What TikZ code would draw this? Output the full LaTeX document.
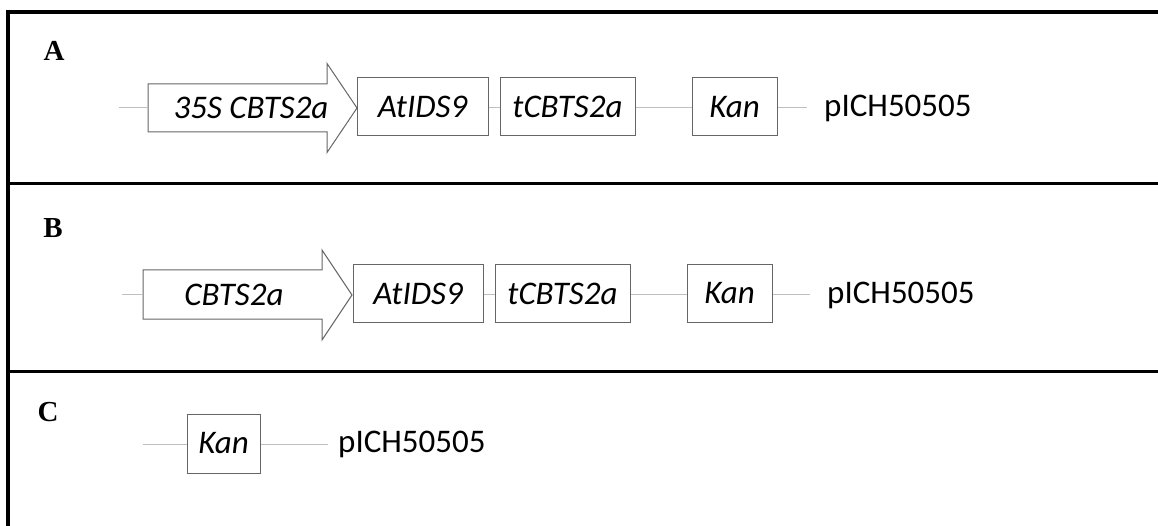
\documentclass[tikz,border=0pt]{standalone}
\usepackage{fontspec}
\setmainfont{Carlito}
\newfontfamily\labelfont{Liberation Serif}
\begin{document}
\begin{tikzpicture}[x=1pt,y=-1pt,
  frameline/.style={line width=4pt,black},
  divider/.style={line width=3pt,black},
  wire/.style={line width=1pt,draw=black!25},
  genebox/.style={draw=black!60,line width=1pt,fill=white,inner sep=0pt,
    font=\fontsize{33}{40}\selectfont\itshape},
  arrowbody/.style={draw=black!60,line width=1pt,fill=white,line join=miter},
  arrowtext/.style={inner sep=0pt,font=\fontsize{33}{40}\selectfont\itshape},
  vector/.style={anchor=west,inner sep=0pt,font=\fontsize{33}{40}\selectfont},
  panel/.style={inner sep=0pt,font=\fontsize{29}{34}\selectfont\labelfont\bfseries}]
\useasboundingbox (0,0) rectangle (1158,526);

% outer frame and panel dividers
\draw[frameline] (8,526) -- (8,12) -- (1160,12);
\draw[divider] (8,184) -- (1160,184);
\draw[divider] (8,371) -- (1160,371);

% panel letters
\node[panel] (la) at (54,51) {A};
\node[panel] (lb) at (53,228) {B};
\node[panel] (lc) at (48,412) {C};

% ---------- panel A ----------
\coordinate (a0) at (119,108);
\coordinate (aL) at (148,108);
\draw[arrowbody] (148,84) -- (327,84) -- (327,63.5) -- (357,108) -- (327,152.5)
  -- (327,132) -- (148,132) -- cycle;
\node[arrowtext] (ap) at (251,108) {35S CBTS2a};
\node[genebox,minimum width=131pt,minimum height=58pt] (a1) at (422.5,107) {AtIDS9};
\node[genebox,minimum width=135pt,minimum height=58pt] (a2) at (567.5,107) {tCBTS2a};
\node[genebox,minimum width=85pt,minimum height=58pt] (a3) at (734.5,107) {Kan};
\coordinate (a4) at (807,108);
\node[vector] (av) at (824,108) {pICH50505};
\draw[wire] (a0) -- (aL);
\draw[wire] (a1.east |- 0,108) -- (a2.west |- 0,108);
\draw[wire] (a2.east |- 0,108) -- (a3.west |- 0,108);
\draw[wire] (a3.east |- 0,108) -- (a4);

% ---------- panel B ----------
\coordinate (b0) at (122,295);
\coordinate (bL) at (143,295);
\draw[arrowbody] (143,270) -- (322,270) -- (322,250) -- (352,295) -- (322,340)
  -- (322,319) -- (143,319) -- cycle;
\node[arrowtext] (bp) at (234,295) {CBTS2a};
\node[genebox,minimum width=130pt,minimum height=58pt] (b1) at (418,293.5) {AtIDS9};
\node[genebox,minimum width=135pt,minimum height=58pt] (b2) at (562.5,293.5) {tCBTS2a};
\node[genebox,minimum width=85pt,minimum height=58pt] (b3) at (729.5,293.5) {Kan};
\coordinate (b4) at (810,295);
\node[vector] (bv) at (827,295) {pICH50505};
\draw[wire] (b0) -- (bL);
\draw[wire] (b1.east |- 0,295) -- (b2.west |- 0,295);
\draw[wire] (b2.east |- 0,295) -- (b3.west |- 0,295);
\draw[wire] (b3.east |- 0,295) -- (b4);

% ---------- panel C ----------
\coordinate (c0) at (143,444);
\node[genebox,minimum width=73pt,minimum height=59pt] (c1) at (223.5,443.5) {Kan};
\coordinate (c2) at (328,444);
\node[vector] (cv) at (338,444) {pICH50505};
\draw[wire] (c0) -- (c1.west |- 0,444);
\draw[wire] (c1.east |- 0,444) -- (c2);
\end{tikzpicture}
\end{document}
